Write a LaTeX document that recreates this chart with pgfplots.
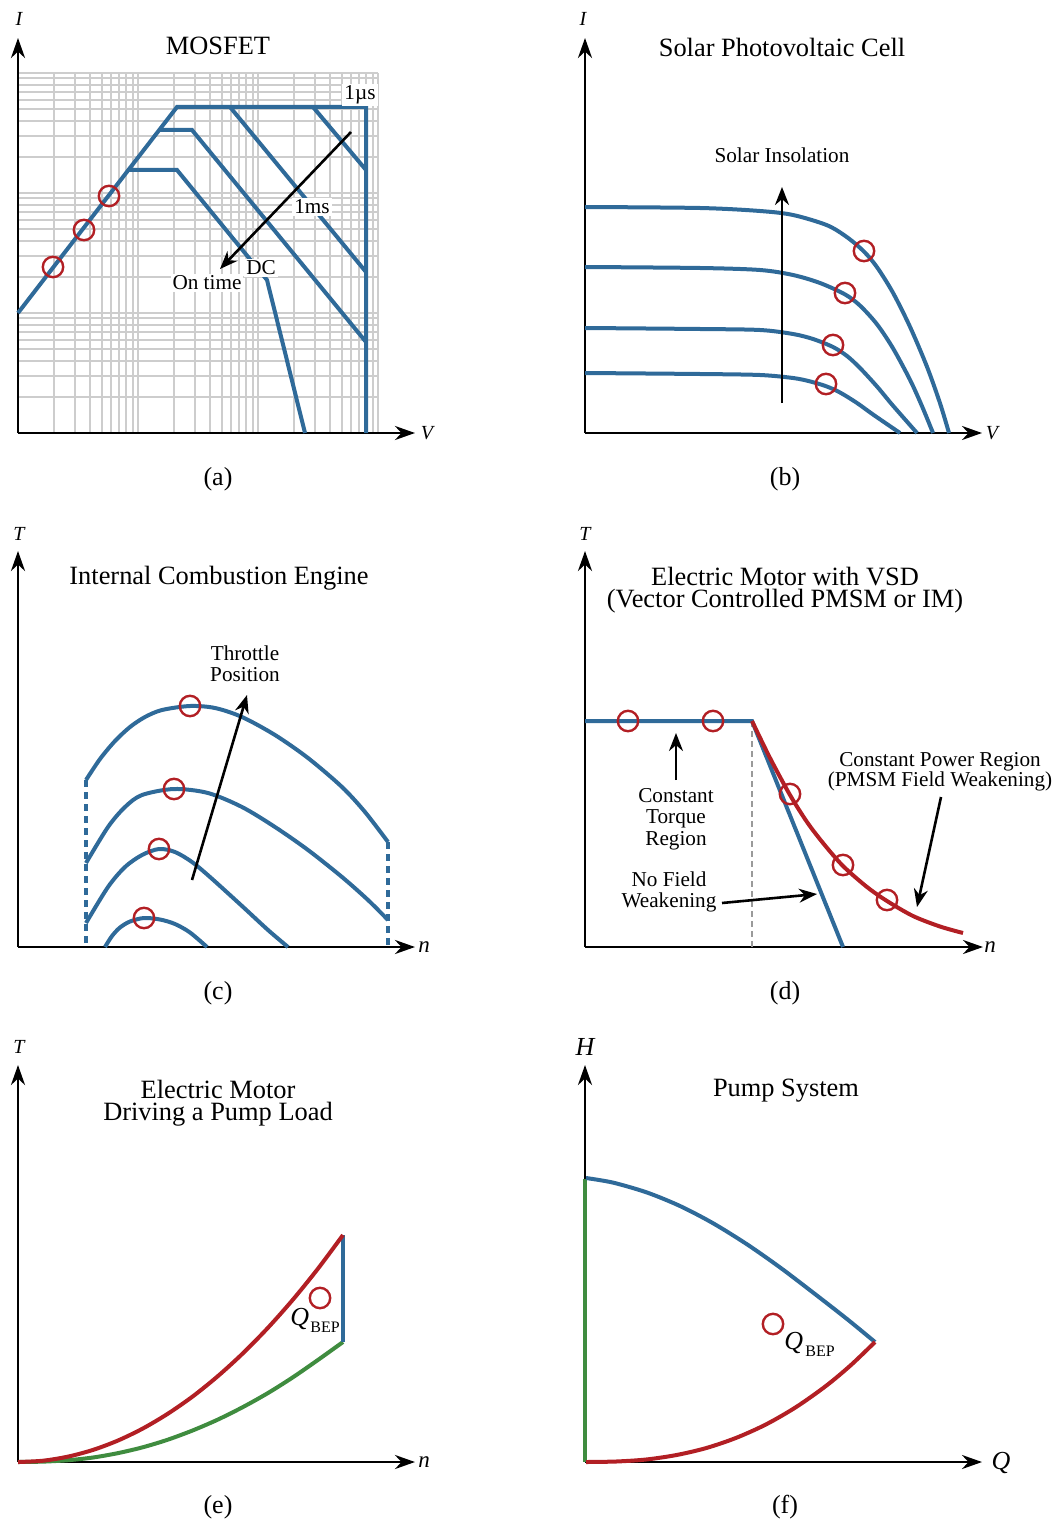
\documentclass[border=0pt]{standalone}
\usepackage{fontspec}
\setmainfont{Liberation Serif}
\usepackage{pgfplots}
\pgfplotsset{compat=1.18}
\usetikzlibrary{arrows.meta}
\definecolor{cblue}{HTML}{2F6A99}
\definecolor{cred}{HTML}{B21F24}
\definecolor{cgreen}{HTML}{3F8C3F}
\definecolor{cgrid}{HTML}{CDCDCD}
\definecolor{cgray}{HTML}{9A9A9A}
\lineskiplimit=-20pt
\pgfplotsset{
 panel/.style={x=0.5pt, y=0.5pt, anchor=south west, axis lines=left,
   axis line style={line width=1.4pt, -{Stealth[length=10pt,width=7pt]}},
   xtick=\empty, ytick=\empty, clip=false, enlargelimits=false},
 blu/.style={cblue, line width=2pt, no marks},
 rd/.style={cred, line width=2pt, no marks},
 gr/.style={cgreen, line width=2pt, no marks},
 arr/.style={black, line width=1.3pt, no marks, -{Stealth[length=9pt,width=7pt]}},
 bep/.style={only marks, mark=o, mark size=5.1pt, mark options={draw=cred, line width=1.2pt, solid}},
}
\newcommand\tfont{\fontsize{13.2}{11.4}\selectfont}
\newcommand\lfont{\fontsize{10.6}{10.6}\selectfont}
\newcommand\afont{\fontsize{10}{12}\selectfont\itshape}
\newcommand\nfont{\fontsize{11.5}{12}\selectfont\itshape}
\newcommand\bfontQ{\fontsize{13}{14}\selectfont\itshape}
\newcommand\sfontB{\fontsize{8}{9}\selectfont}
\newcommand\cfont{\fontsize{13}{15}\selectfont}
\begin{document}
\begin{tikzpicture}
\path[use as bounding box] (0,0) rectangle (529pt,-762pt);
% ---------- log grid of panel (a)
\begin{axis}[at={(9pt,-216.5pt)}, anchor=south west, width=180pt, height=180pt,
  scale only axis, xmode=log, ymode=log, xmin=1, xmax=1000, ymin=1, ymax=1000,
  grid=both, major grid style={cgrid, line width=1pt}, minor grid style={cgrid, line width=1pt},
  axis line style={draw=none}, tick style={draw=none}, xticklabels={}, yticklabels={}]
\addplot[draw=none] coordinates {(1,1) (1000,1000)};
\end{axis}
% ---------- (a) MOSFET
\begin{axis}[panel, at={(9pt,-216.5pt)}, xmin=18, xmax=415, ymin=-433, ymax=-38]
\addplot[blu] coordinates {(18,-313) (177,-107) (366,-107) (366,-433)};
\addplot[blu] coordinates {(160,-130) (192,-130) (366,-342)};
\addplot[blu] coordinates {(129,-170) (177,-170) (267,-280) (305,-433)};
\addplot[blu] coordinates {(230,-107) (366,-272)};
\addplot[blu] coordinates {(313,-107) (366,-170)};
\node[font=\lfont, fill=white, inner sep=1pt] at (axis cs:360,-95) {1µs};
\node[font=\lfont, fill=white, inner sep=1pt] at (axis cs:312,-207) {1ms};
\node[font=\lfont, fill=white, inner sep=1pt] at (axis cs:261,-268) {DC};
\node[font=\lfont, fill=white, inner sep=1pt] at (axis cs:207,-283) {On time};
\addplot[arr] coordinates {(351,-132) (220,-269)};
\addplot[bep] coordinates {(53,-267) (84,-230) (109,-196)};
\node[font=\tfont, inner sep=0pt] at (axis cs:218,-46) {MOSFET};
\node[font=\afont, inner sep=0pt] at (axis cs:19,-19) {I};
\node[font=\afont, inner sep=0pt] at (axis cs:427,-433) {V};
\node[font=\cfont, inner sep=0pt] at (axis cs:218,-479) {(a)};
\end{axis}
% ---------- (b) Solar PV
\begin{axis}[panel, at={(292.5pt,-216.5pt)}, xmin=585, xmax=982, ymin=-433, ymax=-38]
\addplot[blu, smooth] coordinates {(585,-207) (700,-208) (760,-211) (793,-215) (827,-225.2) (847,-237.2) (864,-251.6) (877,-267.2) (893,-292.8) (910,-326.8) (927,-366.8) (940,-403.2) (949,-433)};
\addplot[blu, smooth] coordinates {(585,-267) (700,-268) (760,-270) (793,-275) (820,-283) (845,-294.4) (860,-305.6) (877,-324.3) (893,-348.3) (910,-379.8) (922,-406.2) (933,-433)};
\addplot[blu, smooth] coordinates {(585,-328) (700,-329) (760,-330) (793,-334) (813,-339) (833,-347) (847,-356) (860,-368) (877,-386.5) (893,-405.7) (917,-433)};
\addplot[blu, smooth] coordinates {(585,-373) (700,-374) (760,-375) (793,-378) (810,-381.4) (826,-386.2) (840,-392.5) (857,-403) (873,-414.5) (900,-433)};
\addplot[arr] coordinates {(782,-403) (782,-187)};
\addplot[bep] coordinates {(864,-251) (845,-293) (833,-345) (826,-384)};
\node[font=\tfont, inner sep=0pt] at (axis cs:782,-47.5) {Solar Photovoltaic Cell};
\node[font=\lfont, inner sep=0pt] at (axis cs:782,-155) {Solar Insolation};
\node[font=\afont, inner sep=0pt] at (axis cs:583,-19) {I};
\node[font=\afont, inner sep=0pt] at (axis cs:992,-433) {V};
\node[font=\cfont, inner sep=0pt] at (axis cs:785,-479) {(b)};
\end{axis}
% ---------- (c) ICE
\begin{axis}[panel, at={(9pt,-473.5pt)}, xmin=18, xmax=415, ymin=-947, ymax=-551]
\addplot[blu, dash pattern=on 3.5pt off 2.5pt] coordinates {(86,-780) (86,-947)};
\addplot[blu, dash pattern=on 3.5pt off 2.5pt] coordinates {(388,-842) (388,-947)};
\addplot[blu, smooth] coordinates {(86,-780) (100,-759) (115,-741) (130,-727) (145,-717) (162,-710) (190,-706) (215,-708) (242,-717) (275,-735) (308,-758) (342,-787) (365,-812) (388,-842)};
\addplot[blu, smooth] coordinates {(86,-863) (108,-827) (125,-807) (142,-795) (174,-789) (208,-793) (242,-807) (275,-827) (308,-850) (342,-877) (368,-900) (388,-920)};
\addplot[blu, smooth] coordinates {(86,-923) (108,-887) (125,-867) (142,-855) (159,-849) (175,-852) (192,-862) (210,-877) (242,-906) (268,-930) (288,-947)};
\addplot[blu, smooth] coordinates {(105,-947) (112,-936) (120,-927.5) (130,-921.5) (144,-918) (160,-919.5) (175,-924) (190,-932.5) (207,-947)};
\addplot[arr] coordinates {(192,-880) (247,-695)};
\addplot[bep] coordinates {(190,-706) (174,-789) (159,-849) (144,-918)};
\node[font=\tfont, inner sep=0pt] at (axis cs:219,-578) {Internal Combustion Engine};
\node[font=\lfont, inner sep=0pt, align=center] at (axis cs:245,-664) {Throttle\\Position};
\node[font=\afont, inner sep=0pt] at (axis cs:19,-534) {T};
\node[font=\nfont, inner sep=0pt] at (axis cs:424,-947) {n};
\node[font=\cfont, inner sep=0pt] at (axis cs:218,-993) {(c)};
\end{axis}
% ---------- (d) Motor with VSD
\begin{axis}[panel, at={(292.5pt,-473.5pt)}, xmin=585, xmax=983, ymin=-947, ymax=-551]
\addplot[cgray, line width=1.3pt, no marks, dash pattern=on 3pt off 2pt] coordinates {(752,-721) (752,-947)};
\addplot[blu] coordinates {(585,-721) (752,-721) (843,-947)};
\addplot[rd, smooth] coordinates {(752,-721) (770,-758) (790,-795) (807,-822) (823,-843) (843,-866) (867,-887) (887,-901) (913,-916) (940,-926.5) (963,-933)};
\addplot[arr] coordinates {(676,-780) (676,-733)};
\addplot[arr] coordinates {(722,-903) (817,-894)};
\addplot[arr] coordinates {(941,-797) (917,-907)};
\addplot[bep] coordinates {(628,-721) (713,-721) (790,-794) (843,-865) (887,-900)};
\node[font=\tfont, inner sep=0pt, anchor=base] at (axis cs:785,-585) {Electric Motor with VSD};
\node[font=\tfont, inner sep=0pt, anchor=base] at (axis cs:785,-607.5) {(Vector Controlled PMSM or IM)};
\node[font=\fontsize{10.6}{10.75}\selectfont, inner sep=0pt, align=center] at (axis cs:676,-819) {Constant\\Torque\\Region};
\node[font=\fontsize{10.6}{10.75}\selectfont, inner sep=0pt, align=center] at (axis cs:669,-892) {No Field\\Weakening};
\node[font=\fontsize{10.6}{10}\selectfont, inner sep=0pt, align=center] at (axis cs:940,-772) {Constant Power Region\\(PMSM Field Weakening)};
\node[font=\afont, inner sep=0pt] at (axis cs:585,-534) {T};
\node[font=\nfont, inner sep=0pt] at (axis cs:990,-947) {n};
\node[font=\cfont, inner sep=0pt] at (axis cs:785,-993) {(d)};
\end{axis}
% ---------- (e) Motor driving pump
\begin{axis}[panel, at={(9pt,-731pt)}, xmin=18, xmax=415, ymin=-1462, ymax=-1065]
\addplot[gr, smooth] coordinates {(18,-1462) (43,-1461.6) (68,-1460.2) (93,-1457.5) (118,-1453.1) (143,-1447.2) (168,-1439.6) (193,-1430.3) (218,-1419.5) (243,-1407) (268,-1393) (293,-1377.2) (318,-1359.9) (343,-1342)};
\addplot[blu] coordinates {(343,-1235) (343,-1342)};
\addplot[rd, smooth] coordinates {(18,-1462) (43,-1460.7) (68,-1456.6) (93,-1449.9) (118,-1440.5) (143,-1428.4) (168,-1413.6) (193,-1396.2) (218,-1376) (243,-1353.2) (268,-1327.7) (293,-1299.5) (318,-1268.6) (343,-1235)};
\addplot[bep] coordinates {(320,-1298)};
\node[font=\bfontQ, inner sep=0pt, anchor=base west] at (axis cs:290,-1325) {Q};
\node[font=\sfontB, inner sep=0pt, anchor=base west] at (axis cs:310,-1332) {BEP};
\node[font=\tfont, inner sep=0pt, anchor=base] at (axis cs:218,-1098) {Electric Motor};
\node[font=\tfont, inner sep=0pt, anchor=base] at (axis cs:218,-1120.5) {Driving a Pump Load};
\node[font=\afont, inner sep=0pt] at (axis cs:19,-1047) {T};
\node[font=\nfont, inner sep=0pt] at (axis cs:424,-1462) {n};
\node[font=\cfont, inner sep=0pt] at (axis cs:218,-1507) {(e)};
\end{axis}
% ---------- (f) Pump system
\begin{axis}[panel, at={(292.5pt,-731pt)}, xmin=585, xmax=982, ymin=-1462, ymax=-1065]
\addplot[gr] coordinates {(585,-1179) (585,-1462)};
\addplot[blu, smooth] coordinates {(586,-1178) (613,-1182.6) (647,-1192.5) (680,-1206) (713,-1223.2) (747,-1244.3) (780,-1267.4) (813,-1292.5) (847,-1319) (875,-1342)};
\addplot[rd, smooth] coordinates {(586,-1462) (616,-1461.5) (646,-1459.5) (676,-1455.1) (706,-1448.1) (736,-1437.9) (766,-1424.4) (796,-1407.1) (826,-1385.9) (851,-1365) (875,-1342)};
\addplot[bep] coordinates {(773,-1324)};
\node[font=\bfontQ, inner sep=0pt, anchor=base west] at (axis cs:784,-1349) {Q};
\node[font=\sfontB, inner sep=0pt, anchor=base west] at (axis cs:805,-1356) {BEP};
\node[font=\tfont, inner sep=0pt] at (axis cs:786,-1091) {Pump System};
\node[font=\bfontQ, inner sep=0pt] at (axis cs:585,-1047) {H};
\node[font=\bfontQ, inner sep=0pt] at (axis cs:1001,-1463) {Q};
\node[font=\cfont, inner sep=0pt] at (axis cs:785,-1507) {(f)};
\end{axis}
\end{tikzpicture}
\end{document}
